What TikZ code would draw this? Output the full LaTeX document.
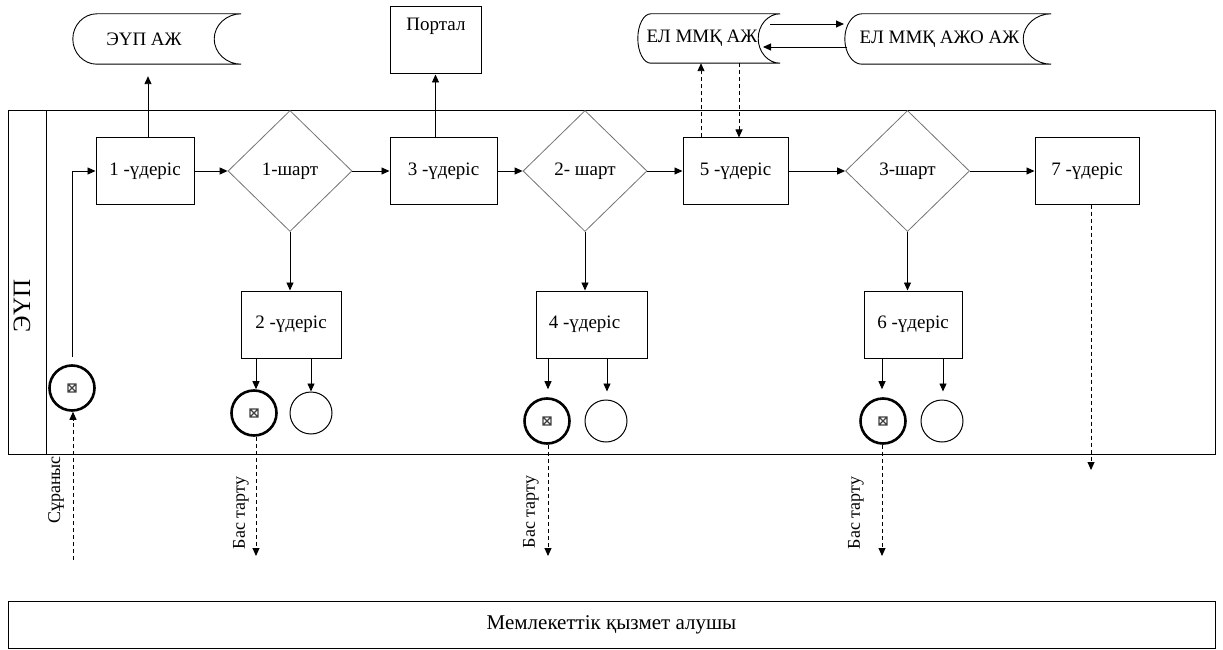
\documentclass[tikz,border=0pt]{standalone}
\usepackage{fontspec}
\setmainfont{Liberation Serif}
\usetikzlibrary{arrows.meta,shapes.geometric,calc}
\newcommand\storshape[3]{%
\draw[line width=0.9pt] let \p1=(#1.north west), \p2=(#1.south east), \p3=(#1.west) in
 ({\x1+#2pt},\y1) -- (\x2,\y1)
 .. controls ({\x2-0.55*#3pt},\y1) and ({\x2-#3pt},{\y1+0.45*(\y3-\y1)}) .. ({\x2-#3pt},\y3)
 .. controls ({\x2-#3pt},{\y2+0.45*(\y3-\y2)}) and ({\x2-0.55*#3pt},\y2) .. (\x2,\y2)
 -- ({\x1+#2pt},\y2)
 .. controls ({\x1+0.45*#2pt},\y2) and (\x1,{\y2+0.45*(\y3-\y2)}) .. (\x1,\y3)
 .. controls (\x1,{\y1+0.45*(\y3-\y1)}) and ({\x1+0.45*#2pt},\y1) .. cycle;}
\begin{document}
\begin{tikzpicture}[x=1pt,y=-1pt,
  font=\fontsize{19}{21}\selectfont,
  proc/.style={draw,line width=1pt,rectangle,inner sep=0,align=center},
  cond/.style={draw=black!55,line width=0.8pt,diamond,inner sep=0,minimum width=124pt,minimum height=121pt},
  arr/.style={line width=0.9pt,-{Triangle[length=8pt,width=7pt]}},
  darr/.style={arr,dash pattern=on 4pt off 3pt},
  endev/.style={circle,draw,line width=2.6pt,minimum size=45pt,inner sep=0},
  term/.style={circle,draw,line width=1pt,minimum size=42pt,inner sep=0},
  store/.style={inner sep=0,rectangle},
  vlab/.style={rotate=90,inner sep=0,font=\fontsize{18}{20}\selectfont},
  xmark/.pic={\draw[line width=1.1pt,black!75] (-4,-4) rectangle (4,4) (-4,-4) -- (4,4) (-4,4) -- (4,-4);}
]
\useasboundingbox (0,0) rectangle (1223,650);

% lane
\node[draw,line width=1pt,rectangle,inner sep=0,minimum width=1207pt,minimum height=343pt] (lane) at (611.5,282.5) {};
\draw[line width=1pt] (46,111) -- (46,454);
\node[rotate=90,inner sep=0,font=\fontsize{25}{28}\selectfont] (lanelab) at (22,306) {ЭҮП};

% top data stores
\node[store,minimum width=168pt,minimum height=50pt] (eup) at (157,39) {ЭҮП АЖ\kern26pt};
\storshape{eup}{24}{27}
\node[proc,minimum width=91pt,minimum height=67pt] (portal) at (435.5,40.5) {};
\node[inner sep=0] (portallab) at (436,26) {Портал};
\node[store,minimum width=142pt,minimum height=49pt] (elm) at (709,38.5) {ЕЛ ММҚ АЖ\kern14pt};
\storshape{elm}{13}{22}
\node[store,minimum width=206pt,minimum height=50pt] (elmajo) at (948,39) {ЕЛ ММҚ АЖО АЖ\kern17pt};
\storshape{elmajo}{17}{28}

% main row
\node[proc,minimum width=98pt,minimum height=66pt] (p1) at (145,171) {1 -үдеріс};
\node[cond] (d1) at (290,171) {1-шарт};
\node[proc,minimum width=107pt,minimum height=66pt] (p3) at (443.5,171) {3 -үдеріс};
\node[cond] (d2) at (585,171) {2- шарт};
\node[proc,minimum width=105pt,minimum height=66pt] (p5) at (735.5,171) {5 -үдеріс};
\node[cond] (d3) at (907.5,171) {3-шарт};
\node[proc,minimum width=104pt,minimum height=66pt] (p7) at (1087,171) {7 -үдеріс};

% lower row
\node[proc,minimum width=100pt,minimum height=67pt] (p2) at (291,324.5) {2 -үдеріс};
\node[proc,minimum width=111pt,minimum height=67pt] (p4) at (591.5,324.5) {4 -үдеріс\kern14pt};
\node[proc,minimum width=98pt,minimum height=67pt] (p6) at (913,324.5) {6 -үдеріс};

% events
\node[endev] (start) at (72,388) {};
\pic at (start.center) {xmark};
\node[endev] (s2) at (254,413) {};
\pic at (s2.center) {xmark};
\node[term] (t2) at (311,413) {};
\node[endev] (s4) at (547,421) {};
\pic at (s4.center) {xmark};
\node[term] (t4) at (606,421) {};
\node[endev] (s6) at (883,421) {};
\pic at (s6.center) {xmark};
\node[term] (t6) at (942,421) {};

% bottom lane
\node[draw,line width=1pt,rectangle,inner sep=0,minimum width=1207pt,minimum height=47pt,font=\fontsize{21}{23}\selectfont] (recv) at (611.5,624.5) {Мемлекеттік қызмет алушы};

% free ends
\coordinate (req) at (73,560);
\coordinate (r2) at (256,556);
\coordinate (r4) at (548,556);
\coordinate (r6) at (882,556);
\coordinate (out7) at (1091,470);
\coordinate (e1a) at (770,24);
\coordinate (e2a) at (844,24);
\coordinate (e2b) at (847,47);
\coordinate (e1b) at (763,47);

% connectors main
\draw[arr,shorten <=7pt] (start.north) |- (p1.west);
\draw[arr] (p1.east) -- (d1.west);
\draw[arr] (d1.east) -- (p3.west);
\draw[arr] (p3.east) -- (d2.west);
\draw[arr] (d2.east) -- (p5.west);
\draw[arr] (p5.east) -- (d3.west);
\draw[arr] (d3.east) -- (p7.west);

\draw[arr,shorten >=12pt] ([xshift=3pt]p1.north) -- ([xshift=3pt]p1.north |- eup.south);
\draw[arr] (portal.south |- p3.north) -- (portal.south);
\draw[darr] ([xshift=-34.5pt]p5.north) -- ([xshift=-34.5pt]p5.north |- elm.south);
\draw[darr] ([xshift=3.5pt]p5.north |- elm.south) -- ([xshift=3.5pt]p5.north);
\draw[arr] (e1a) -- (e2a);
\draw[arr] (e2b) -- (e1b);

\draw[arr] (d1.south) -- (d1.south |- p2.north);
\draw[arr] (d2.south) -- (d2.south |- p4.north);
\draw[arr] (d3.south) -- (d3.south |- p6.north);

\draw[arr] ([xshift=2pt]s2.north |- p2.south) -- ([xshift=2pt]s2.north);
\draw[arr] (t2.north |- p2.south) -- (t2.north);
\draw[arr,shorten >=8pt] ([xshift=1pt]s4.north |- p4.south) -- ([xshift=1pt]s4.north);
\draw[arr,shorten >=8pt] ([xshift=1pt]t4.north |- p4.south) -- ([xshift=1pt]t4.north);
\draw[arr,shorten >=8pt] ([xshift=-1pt]s6.north |- p6.south) -- ([xshift=-1pt]s6.north);
\draw[arr,shorten >=8pt] ([xshift=1pt]t6.north |- p6.south) -- ([xshift=1pt]t6.north);

\draw[darr] (req) -- (req |- start.south);
\draw[darr] (r2 |- s2.south) -- (r2);
\draw[darr] (r4 |- s4.south) -- (r4);
\draw[darr] (r6 |- s6.south) -- (r6);
\draw[darr] (out7 |- p7.south) -- (out7);

% rotated labels
\node[vlab] (lreq) at (56,490) {Сұраныс};
\node[vlab] (l2) at (241,513) {Бас тарту};
\node[vlab] (l4) at (531,512) {Бас тарту};
\node[vlab] (l6) at (856,513) {Бас тарту};
\end{tikzpicture}
\end{document}
